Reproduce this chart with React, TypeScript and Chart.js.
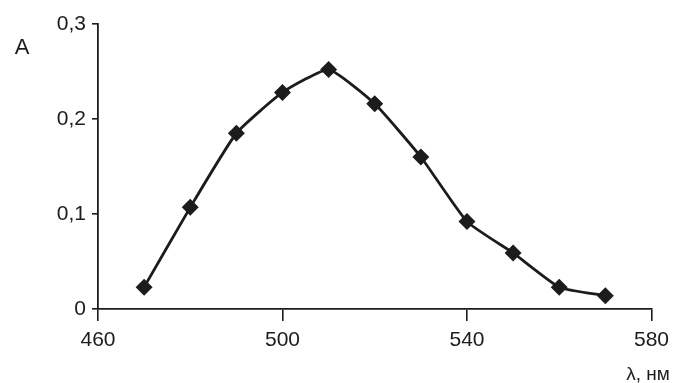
import React, { useEffect, useRef } from "react";
import { Chart, registerables } from "chart.js";

Chart.register(...registerables);

const wavelengths = [470, 480, 490, 500, 510, 520, 530, 540, 550, 560, 570];
const absorbance = [0.023, 0.107, 0.185, 0.228, 0.252, 0.216, 0.16, 0.092, 0.059, 0.023, 0.014];
const xTicks = [460, 500, 540, 580];
const yTicks = [0, 0.1, 0.2, 0.3];
const yAxisLabel = "A";
const xAxisLabel = "λ, нм";

const FONT = '"Liberation Sans", Arial, sans-serif';
const INK = "#1c1c1c";

export default function App() {
  const ref = useRef<HTMLCanvasElement | null>(null);

  useEffect(() => {
    if (!ref.current) return;
    const labelsPlugin = {
      id: "axisLabels",
      afterDraw(chart: any) {
        const ctx = chart.ctx;
        ctx.save();
        ctx.fillStyle = INK;
        ctx.textAlign = "center";
        ctx.textBaseline = "middle";
        ctx.font = `22px ${FONT}`;
        ctx.fillText(yAxisLabel, 22, 48);
        ctx.font = `19px ${FONT}`;
        ctx.fillText(xAxisLabel, 648, 375);
        ctx.restore();
      },
    };
    const chart = new Chart(ref.current, {
      type: "line",
      data: {
        datasets: [
          {
            data: wavelengths.map((x, i) => ({ x, y: absorbance[i] })),
            borderColor: INK,
            backgroundColor: INK,
            borderWidth: 2.8,
            pointStyle: "rectRot",
            pointRadius: 6.5,
            pointBackgroundColor: INK,
            pointBorderColor: INK,
            tension: 0.15,
            fill: false,
          },
        ],
      },
      options: {
        responsive: false,
        animation: false,
        layout: { padding: { left: 0, top: 24, right: 21, bottom: 0 } },
        plugins: { legend: { display: false }, tooltip: { enabled: false }, title: { display: false } },
        scales: {
          x: {
            type: "linear",
            min: 460,
            max: 580,
            afterBuildTicks: (s: any) => {
              s.ticks = xTicks.map((v) => ({ value: v }));
            },
            afterFit: (s: any) => {
              s.height = 74;
            },
            border: { display: true, color: INK, width: 1.8 },
            grid: { display: true, drawOnChartArea: false, drawTicks: true, tickLength: 12, color: INK, lineWidth: 1.6 },
            ticks: {
              color: INK,
              font: { family: FONT, size: 21 },
              padding: 7,
              maxRotation: 0,
              callback: (v: any) => String(v),
            },
          },
          y: {
            type: "linear",
            min: 0,
            max: 0.3,
            afterBuildTicks: (s: any) => {
              s.ticks = yTicks.map((v) => ({ value: v }));
            },
            afterFit: (s: any) => {
              s.width = 98;
            },
            border: { display: true, color: INK, width: 1.8 },
            grid: { display: true, drawOnChartArea: false, drawTicks: true, tickLength: 6, color: INK, lineWidth: 1.6 },
            ticks: {
              color: INK,
              font: { family: FONT, size: 21 },
              padding: 6,
              callback: (v: any) => (v === 0 ? "0" : Number(v).toFixed(1).replace(".", ",")),
            },
          },
        },
      },
      plugins: [labelsPlugin],
    });
    return () => chart.destroy();
  }, []);

  return (
    <div style={{ position: "absolute", left: 0, top: 0, width: 676, height: 383, background: "#fff" }}>
      <canvas ref={ref} width={676} height={383} style={{ display: "block" }} />
    </div>
  );
}
